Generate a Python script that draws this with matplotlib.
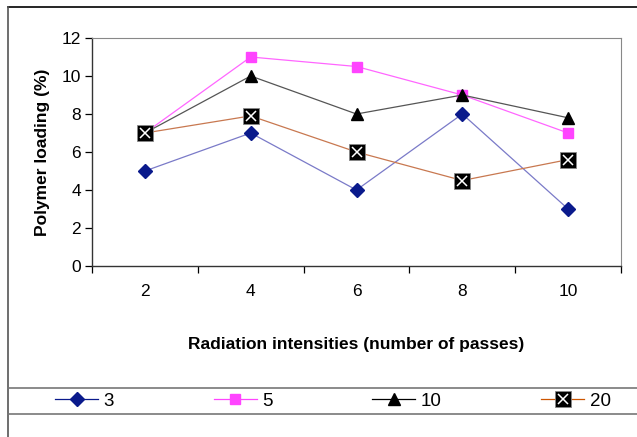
import matplotlib
matplotlib.use("Agg")
import matplotlib.pyplot as plt
from matplotlib.lines import Line2D
from matplotlib.legend_handler import HandlerTuple

plt.rcParams["font.family"] = ["Liberation Sans", "DejaVu Sans"]

passes = ["2", "4", "6", "8", "10"]
load_3 = [5, 7, 4, 8, 3]
load_5 = [7, 11, 10.5, 9, 7]
load_10 = [7, 10, 8, 9, 7.8]
load_20 = [7, 7.9, 6, 4.5, 5.6]

W, H = 637, 437
fig = plt.figure(figsize=(W / 100, H / 100), dpi=100)
ax = fig.add_axes([92 / W, 1 - 266 / H, (621 - 92) / W, (266 - 38) / H])

x = range(len(passes))
ax.plot(x, load_3, color="#7a7ac8", lw=0.9, marker="D", ms=7,
        mfc="#0a1a8c", mec="#0a1a8c")
ax.plot(x, load_5, color="#ff66ff", lw=0.9, marker="s", ms=7,
        mfc="#ff44ff", mec="#ff44ff")
ax.plot(x, load_10, color="#555555", lw=0.9, marker="^", ms=8,
        mfc="black", mec="black")
ax.plot(x, load_20, color="#c87850", lw=0.9, marker="s", ms=11,
        mfc="black", mec="#888888", mew=0.6)
ax.plot(x, load_20, ls="none", marker="x", ms=7, mec="white", mew=1.1)

ax.set_xlim(-0.5, len(passes) - 0.5)
ax.set_ylim(0, 12)
ax.set_yticks(range(0, 13, 2))
ax.set_xticks(x)
ax.set_xticklabels(passes)
ax.set_xticks([i + 0.5 for i in range(-1, len(passes))], minor=True)
ax.tick_params(axis="x", which="major", length=0, pad=13, labelsize=12.5)
ax.tick_params(axis="x", which="minor", length=5, direction="out", width=0.9)
ax.tick_params(axis="y", length=5, direction="out", width=0.9, labelsize=12.5, pad=3)
for s in ["top", "right"]:
    ax.spines[s].set_color("#888888")
for s in ["left", "bottom"]:
    ax.spines[s].set_color("#333333")
    ax.spines[s].set_linewidth(1.0)

ax.set_ylabel("Polymer loading (%)", fontsize=12.5, fontweight="bold", labelpad=8)
ax.set_xlabel("Radiation intensities (number of passes)", fontsize=12.5,
              fontweight="bold", labelpad=27)

# chart border and legend band
fig.add_artist(Line2D([8 / W, 1], [1 - 7 / H] * 2, color="black", lw=1.2))
fig.add_artist(Line2D([8 / W] * 2, [0, 1 - 7 / H], color="#555555", lw=1.2))
for yy in (388, 414):
    fig.add_artist(Line2D([8 / W, 1], [1 - yy / H] * 2, color="#777777", lw=1.2))

leg_h3 = Line2D([], [], color="#0a1a8c", lw=0.9, marker="D", ms=7,
                mfc="#0a1a8c", mec="#0a1a8c")
leg_h5 = Line2D([], [], color="#ff44ff", lw=0.9, marker="s", ms=7,
                mfc="#ff44ff", mec="#ff44ff")
leg_h10 = Line2D([], [], color="black", lw=0.9, marker="^", ms=8,
                 mfc="black", mec="black")
leg_h20 = (Line2D([], [], color="#cc5500", lw=0.9, marker="s", ms=11,
                  mfc="black", mec="#888888", mew=0.6),
           Line2D([], [], ls="none", marker="x", ms=7, mec="white", mew=1.1))
fig.legend([leg_h3, leg_h5, leg_h10, leg_h20], ["3", "5", "10", "20"],
           loc="center", bbox_to_anchor=(333 / W, 1 - 401 / H), ncol=4,
           frameon=False, fontsize=13.5, handlelength=2.3, handletextpad=0.3,
           columnspacing=5.3, borderpad=0,
           handler_map={tuple: HandlerTuple(ndivide=1)})

fig.savefig("out.png", dpi=100)
